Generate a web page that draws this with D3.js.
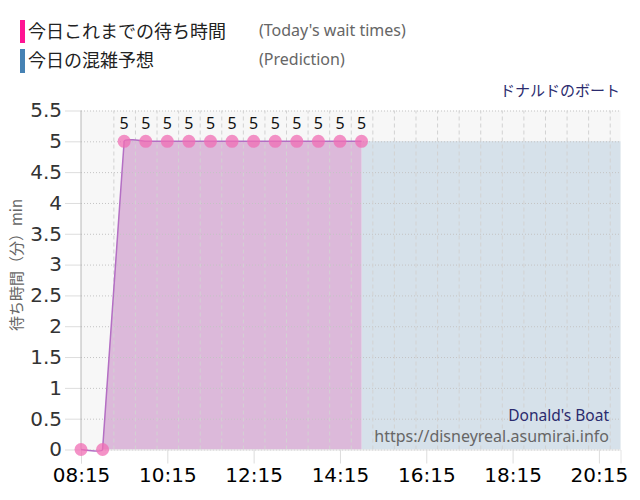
<!DOCTYPE html>
<html>
<head>
<meta charset="utf-8">
<script src="https://cdn.jsdelivr.net/npm/d3@7"></script>
<style>
  body { margin: 0; background: #fff; }
  svg { display: block; }
</style>
</head>
<body>
<svg id="chart" width="640" height="500"></svg>
<script>
// 今日これまでの待ち時間 (30分ごと)
const waitTimes = ['08:15', '08:45', '09:15', '09:45', '10:15', '10:45', '11:15', '11:45',
  '12:15', '12:45', '13:15', '13:45', '14:15', '14:45'];
const waitValues = [0, 0, 5, 5, 5, 5, 5, 5, 5, 5, 5, 5, 5, 5];

// 今日の混雑予想
const predTimes = ['14:45', '15:15', '15:45', '16:15', '16:45', '17:15', '17:45', '18:15',
  '18:45', '19:15', '19:45', '20:15', '20:45'];
const predValues = [5, 5, 5, 5, 5, 5, 5, 5, 5, 5, 5, 5, 5];

const xTickLabels = ['08:15', '10:15', '12:15', '14:15', '16:15', '18:15', '20:15'];
const yTicks = [0, 0.5, 1, 1.5, 2, 2.5, 3, 3.5, 4, 4.5, 5, 5.5];

const parse = d3.timeParse('%H:%M');
const wait = waitTimes.map((t, i) => ({ t: parse(t), v: waitValues[i] }));
const pred = predTimes.map((t, i) => ({ t: parse(t), v: predValues[i] }));

const svg = d3.select('#chart');
const pL = 81, pR = 620.5, pT = 110.5, pB = 449.5;

const x = d3.scaleTime()
  .domain([parse('08:15'), parse('20:45')])
  .range([pL, pR]);
const y = d3.scaleLinear()
  .domain([0, 5.5])
  .range([pB, pT]);

const cjk = '"Noto Sans CJK JP", "Noto Sans", sans-serif';
const lat = '"Noto Sans", "Noto Sans CJK JP", sans-serif';
const num = '"DejaVu Sans", Verdana, sans-serif';

// legend
svg.append('rect').attr('x', 20).attr('y', 20).attr('width', 5).attr('height', 23).attr('fill', '#ff1493');
svg.append('rect').attr('x', 20).attr('y', 49).attr('width', 5).attr('height', 24).attr('fill', '#4682b4');
svg.append('text').attr('x', 28).attr('y', 38).text('今日これまでの待ち時間')
  .style('font-family', cjk).style('font-size', '18px').attr('fill', '#222');
svg.append('text').attr('x', 28).attr('y', 67).text('今日の混雑予想')
  .style('font-family', cjk).style('font-size', '18px').attr('fill', '#222');
svg.append('text').attr('x', 259).attr('y', 36).text("(Today's wait times)")
  .style('font-family', lat).style('font-size', '16px').attr('fill', '#666');
svg.append('text').attr('x', 259).attr('y', 65).text('(Prediction)')
  .style('font-family', lat).style('font-size', '16px').attr('fill', '#666');

svg.append('text').attr('x', 620).attr('y', 96).attr('text-anchor', 'end').text('ドナルドのボート')
  .style('font-family', cjk).style('font-size', '15px').attr('fill', '#2b2b6e');

// plot background
svg.append('rect').attr('x', pL).attr('y', pT)
  .attr('width', pR - pL).attr('height', pB - pT).attr('fill', '#f7f7f7');

// prediction area
const predArea = d3.area().x(d => x(d.t)).y0(y(0)).y1(d => y(d.v));
svg.append('path').datum(pred).attr('d', predArea).attr('fill', '#d6e1ea');

// wait area + line
const curve = d3.curveCardinal.tension(0.93);
const waitArea = d3.area().x(d => x(d.t)).y0(y(0)).y1(d => y(d.v)).curve(curve);
svg.append('path').datum(wait.slice(1)).attr('d', waitArea).attr('fill', '#dcb9da');

// grid: horizontal
svg.append('g')
  .attr('transform', `translate(${pL},0)`)
  .call(d3.axisLeft(y).tickValues(yTicks).tickSize(-(pR - pL)).tickFormat(''))
  .call(g => g.select('.domain').remove())
  .call(g => g.selectAll('line').attr('stroke', '#c4c4c4').attr('stroke-dasharray', '1,2'));

// y tick marks outside + labels
svg.append('g')
  .attr('transform', `translate(${pL},0)`)
  .call(d3.axisLeft(y).tickValues(yTicks).tickSize(16).tickPadding(3).tickFormat(d3.format('')))
  .call(g => g.select('.domain').remove())
  .call(g => g.selectAll('line').attr('stroke', '#ddd'))
  .call(g => g.selectAll('text').style('font-family', num).style('font-size', '20px').attr('fill', '#333'));

// grid: vertical every 30 min
const halfHours = d3.timeMinute.every(30).range(parse('08:45'), d3.timeMinute.offset(parse('20:45'), 1));
svg.append('g')
  .attr('transform', `translate(0,${pB})`)
  .call(d3.axisBottom(x).tickValues(halfHours).tickSize(-(pB - pT)).tickFormat(''))
  .call(g => g.select('.domain').remove())
  .call(g => g.selectAll('line').attr('stroke', '#d2d2d2').attr('stroke-dasharray', '4,3'));

// x axis labels
svg.append('g')
  .attr('transform', `translate(0,${pB})`)
  .call(d3.axisBottom(x).tickValues(xTickLabels.map(parse)).tickSize(14).tickPadding(4)
    .tickFormat(d3.timeFormat('%H:%M')))
  .call(g => g.select('.domain').attr('stroke', '#e4e4e4'))
  .call(g => g.selectAll('line').attr('stroke', '#ddd'))
  .call(g => g.selectAll('text').style('font-family', num).style('font-size', '20px').attr('fill', '#000'));

// y axis line
svg.append('line').attr('x1', pL).attr('x2', pL).attr('y1', pT).attr('y2', pB)
  .attr('stroke', '#b8b8b8');

// wait line
const waitLine = d3.line().x(d => x(d.t)).y(d => y(d.v)).curve(curve);
svg.append('path').datum(wait).attr('d', waitLine)
  .attr('fill', 'none').attr('stroke', '#b46fc4').attr('stroke-width', 1.5);

// points
svg.append('g').selectAll('circle').data(wait).join('circle')
  .attr('cx', d => x(d.t)).attr('cy', d => y(d.v)).attr('r', 6.5)
  .attr('fill', 'rgba(240, 110, 180, 0.75)');

// point labels
svg.append('g').selectAll('text').data(wait.filter(d => d.v > 0)).join('text')
  .attr('x', d => x(d.t)).attr('y', d => y(d.v) - 12)
  .attr('text-anchor', 'middle').text(d => d.v)
  .style('font-family', lat).style('font-size', '16px').attr('fill', '#111');

// y axis title
svg.append('text')
  .attr('transform', 'translate(22,265) rotate(-90)')
  .attr('text-anchor', 'middle')
  .text('待ち時間（分）min')
  .style('font-family', cjk).style('font-size', '15px').attr('fill', '#666');

// watermark
svg.append('text').attr('x', 609).attr('y', 421).attr('text-anchor', 'end').text("Donald's Boat")
  .style('font-family', lat).style('font-size', '15.5px').attr('fill', '#2b2b6e');
svg.append('text').attr('x', 609).attr('y', 442).attr('text-anchor', 'end').text('https://disneyreal.asumirai.info')
  .style('font-family', lat).style('font-size', '16px').attr('fill', '#666');
</script>
</body>
</html>
